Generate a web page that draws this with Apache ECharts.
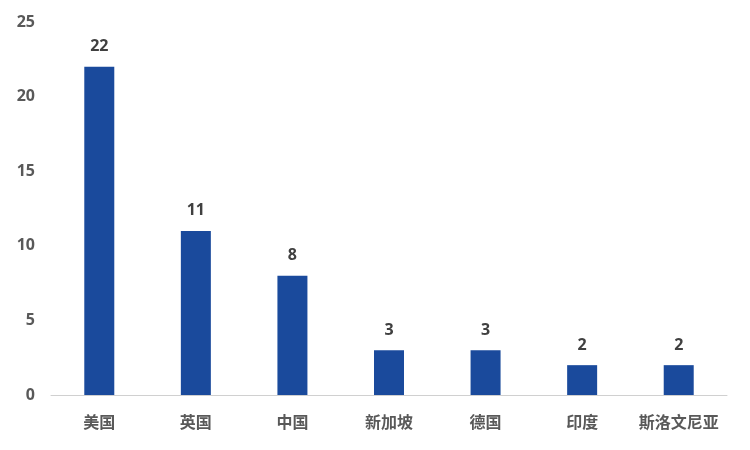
<!DOCTYPE html>
<html><head><meta charset="utf-8">
<script src="https://cdn.jsdelivr.net/npm/echarts@6/dist/echarts.min.js"></script>
<style>html,body{margin:0;padding:0;background:#fff}#c{width:750px;height:450px}</style>
</head><body><div id="c"></div>
<script>
const categories = ['美国','英国','中国','新加坡','德国','印度','斯洛文尼亚'];
const values = [22, 11, 8, 3, 3, 2, 2];
const yTicks = [0, 5, 10, 15, 20, 25];

const chart = echarts.init(document.getElementById('c'));
chart.setOption({
  animation: false,
  grid: {left: 51, right: 23, top: 22, bottom: 55, containLabel: false},
  xAxis: {
    type: 'category', data: categories,
    axisLine: {lineStyle: {color: '#D0D0D0', width: 1}},
    axisTick: {show: false},
    axisLabel: {interval: 0, color: '#595959', fontSize: 16, fontWeight: 'bold', margin: 19,
      fontFamily: '"Noto Sans CJK SC", sans-serif'}
  },
  yAxis: {
    type: 'value', min: yTicks[0], max: yTicks[yTicks.length-1], interval: 5,
    splitLine: {show: false}, axisLine: {show: false}, axisTick: {show: false},
    axisLabel: {color: '#595959', fontSize: 16, fontWeight: 'bold', margin: 16,
      fontFamily: '"Open Sans", sans-serif'}
  },
  series: [{
    type: 'bar', data: values, barWidth: 30,
    itemStyle: {color: '#1A4A9C'},
    label: {show: true, position: 'top', distance: 12, color: '#404040', fontSize: 16,
      fontWeight: 'bold', fontFamily: '"Open Sans", sans-serif'}
  }]
});
</script></body></html>
